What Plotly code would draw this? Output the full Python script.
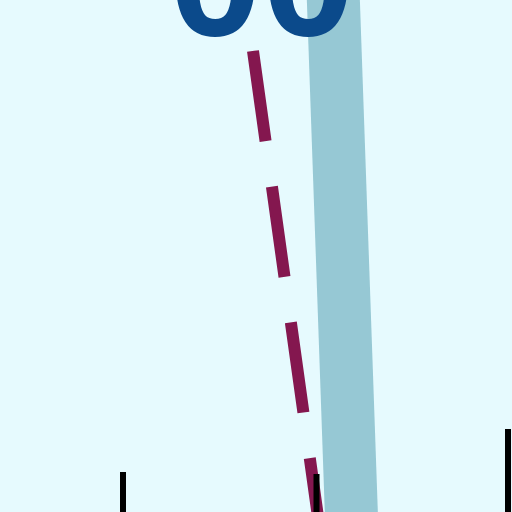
import plotly.graph_objects as go

# wide pale-blue band
band_x = [333, 353]
band_y = [-10, 560]

# dashed maroon line
dash_x = [253, 324]
dash_y = [51, 560]

# black tick segments at the bottom
tick_x = [123, 316.5, 508]
tick_top = [472, 474, 429]
tick_bottom = [530, 530, 530]

label_text = "00"
label_x = 261.5
label_y = 72

fig = go.Figure()

fig.add_trace(go.Scatter(x=band_x, y=band_y, mode="lines",
                         line=dict(color="#96c8d4", width=53), hoverinfo="skip"))
fig.add_trace(go.Scatter(x=dash_x, y=dash_y, mode="lines",
                         line=dict(color="#84174f", width=12, dash="91px,46px"),
                         hoverinfo="skip"))
for tx, t0, t1 in zip(tick_x, tick_top, tick_bottom):
    fig.add_trace(go.Scatter(x=[tx, tx], y=[t0, t1], mode="lines",
                             line=dict(color="#000000", width=6), hoverinfo="skip"))

fig.add_annotation(x=label_x, y=label_y, text="<b>%s</b>" % label_text,
                   showarrow=False, xanchor="center", yanchor="bottom",
                   font=dict(family="Liberation Sans", size=167, color="#0b4a8b"))

fig.update_layout(width=512, height=512, margin=dict(l=0, r=0, t=0, b=0),
                  paper_bgcolor="#e6fafe", plot_bgcolor="#e6fafe",
                  showlegend=False,
                  xaxis=dict(range=[0, 512], visible=False, fixedrange=True),
                  yaxis=dict(range=[512, 0], visible=False, fixedrange=True))

# drop the browser's default page margin so the figure fills the window
fig.write_html("out.html", config={"displayModeBar": False},
               post_script="document.body.style.margin='0';document.body.style.overflow='hidden';")
